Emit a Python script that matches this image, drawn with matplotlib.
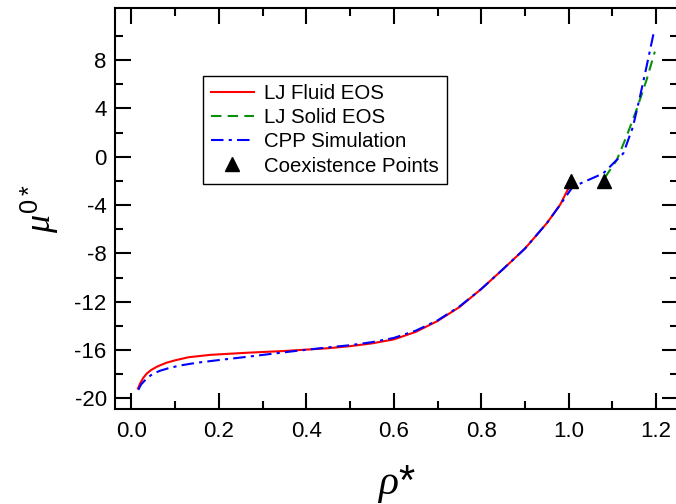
import matplotlib
matplotlib.use("Agg")
import matplotlib.pyplot as plt
from matplotlib.ticker import MultipleLocator, FixedLocator

plt.rcParams['font.family'] = ['Liberation Sans', 'DejaVu Sans']
plt.rcParams['mathtext.fontset'] = 'custom'
plt.rcParams['mathtext.it'] = 'Liberation Serif:italic'
plt.rcParams['mathtext.rm'] = 'Liberation Sans'

# LJ fluid equation of state
fluid_rho = [0.015, 0.02, 0.027, 0.035, 0.045, 0.06, 0.08, 0.1, 0.13, 0.18, 0.267, 0.35, 0.45,
             0.5, 0.55, 0.6, 0.65, 0.7, 0.75, 0.8, 0.85, 0.9, 0.95, 0.98, 1.001]
fluid_mu = [-19.17, -18.75, -18.3, -17.95, -17.65, -17.35, -17.05, -16.85, -16.6, -16.4, -16.22,
            -16.08, -15.85, -15.68, -15.45, -15.12, -14.5, -13.6, -12.45, -10.95, -9.3, -7.6,
            -5.5, -4.0, -2.5]

# LJ solid equation of state
solid_rho = [1.083, 1.087, 1.110, 1.132, 1.155, 1.178, 1.197]
solid_mu = [-1.75, -1.5, -0.27, 1.66, 3.87, 6.35, 8.7]

# CPP simulation
cpp_rho = [0.0156, 0.022, 0.031, 0.04, 0.05, 0.065, 0.085, 0.111, 0.15, 0.2, 0.267, 0.37,
           0.45, 0.5, 0.55, 0.6, 0.65, 0.7, 0.75, 0.8, 0.85, 0.9, 0.95, 0.98, 1.009,
           1.079, 1.102, 1.125, 1.147, 1.163, 1.178, 1.195]
cpp_mu = [-19.3, -18.85, -18.5, -18.2, -17.95, -17.72, -17.5, -17.28, -17.05, -16.83, -16.55,
          -16.1, -15.78, -15.6, -15.35, -15.0, -14.4, -13.55, -12.4, -10.95, -9.3, -7.6,
          -5.5, -4.0, -2.5, -1.38, -0.55, 0.28, 2.48, 4.97, 7.45, 10.35]

# coexistence points
coex_rho = [1.005, 1.080]
coex_mu = [-2.0, -2.0]

fig = plt.figure(figsize=(6.76, 5.04), dpi=100)
ax = fig.add_axes([115 / 676, 1 - 408.5 / 504, 563 / 676, 400.5 / 504])

ax.plot(fluid_rho, fluid_mu, color='red', lw=1.5, label='LJ Fluid EOS')
ax.plot(solid_rho, solid_mu, color='#0a8f0a', lw=1.5, ls=(0, (5, 3)), label='LJ Solid EOS')
ax.plot(cpp_rho, cpp_mu, color='blue', lw=1.5, ls=(0, (6, 2.5, 1.5, 2.5)), label='CPP Simulation')
ax.plot(coex_rho, coex_mu, ls='none', marker='^', ms=10, color='black', label='Coexistence Points')

ax.set_xlim(-0.0377, 1.25)
ax.set_ylim(-20.84, 12.31)

ax.xaxis.set_major_locator(MultipleLocator(0.2))
ax.xaxis.set_minor_locator(MultipleLocator(0.1))
ax.yaxis.set_major_locator(FixedLocator(list(range(-20, 9, 4))))
ax.yaxis.set_minor_locator(FixedLocator(list(range(-18, 11, 4))))
ax.xaxis.set_major_formatter(plt.FuncFormatter(lambda v, p: f"{v:.1f}"))
ax.yaxis.set_major_formatter(plt.FuncFormatter(lambda v, p: f"{v:.0f}"))

ax.tick_params(which='both', direction='in', top=True, right=True, width=1.5, labelsize=16)
ax.tick_params(which='major', length=11.5)
ax.tick_params(which='minor', length=5.8)
ax.tick_params(axis='x', pad=9)
ax.tick_params(axis='y', pad=6)
for s in ax.spines.values():
    s.set_linewidth(1.5)

ax.set_xlabel(r'$\rho$*', fontsize=30, labelpad=15)
ax.set_ylabel(r'$\mu^{0*}$', fontsize=26, labelpad=10)

leg = ax.legend(loc='upper left', bbox_to_anchor=(0.156, 0.830), borderaxespad=0,
                fontsize=14.7, fancybox=False, framealpha=1, edgecolor='black',
                handlelength=2.1, handletextpad=0.5, labelspacing=0.25, borderpad=0.4)
leg.get_frame().set_linewidth(1.0)

fig.savefig('out.png', dpi=100)
